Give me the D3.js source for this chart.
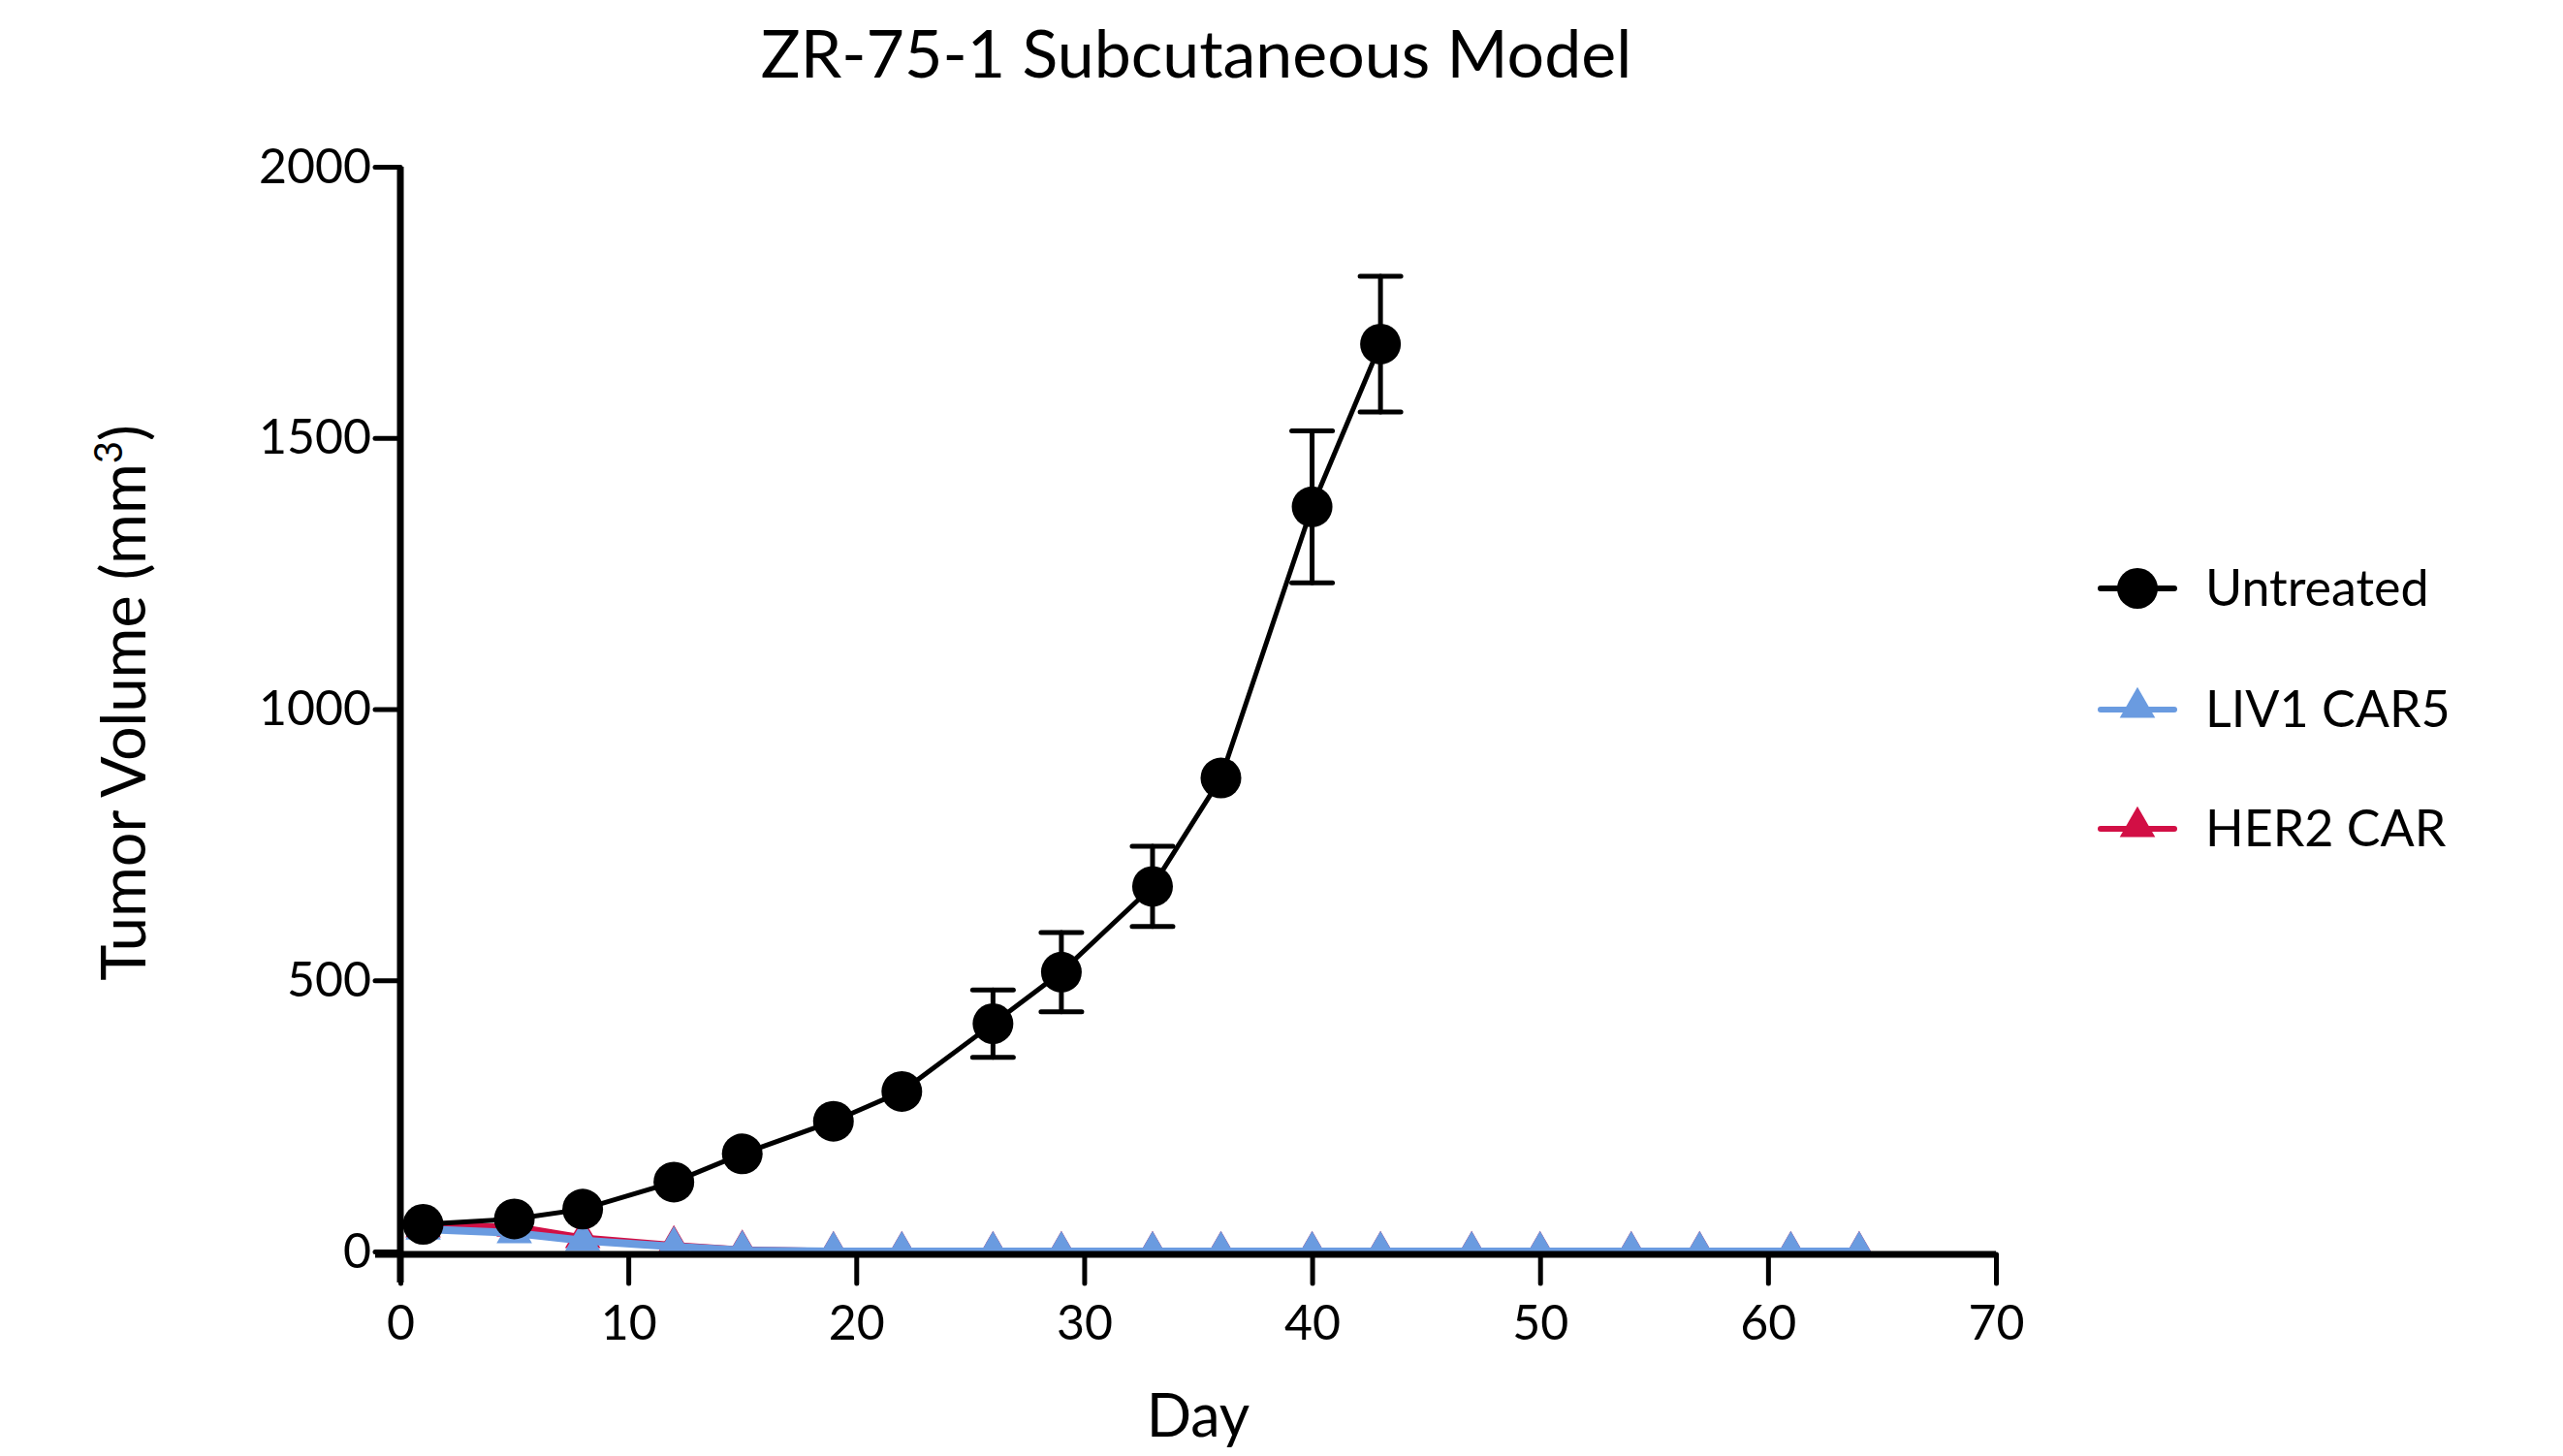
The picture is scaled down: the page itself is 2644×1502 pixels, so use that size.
<!DOCTYPE html>
<html>
<head>
<meta charset="utf-8">
<script src="https://cdn.jsdelivr.net/npm/d3@7"></script>
<style>
  body { margin: 0; background: #fff; }
  text { font-family: Lato, 'Open Sans', sans-serif; fill: #000; }
</style>
</head>
<body>
<div id="chart"></div>
<script>
// data
var days = [1, 5, 8, 12, 15, 19, 22, 26, 29, 33, 36, 40, 43]
var untreated = [50, 60, 78, 128, 180, 240, 295, 420, 515, 673, 873, 1373, 1673]
var untreatedSem = [6, 8, 10, 12, 14, 16, 18, 62, 73, 74, 20, 140, 125]

var carDays = [1, 5, 8, 12, 15, 19, 22, 26, 29, 33, 36, 40, 43, 47, 50, 54, 57, 61, 64]
var liv1 = [41, 34, 20, 9, 2, 0, 0, 0, 0, 0, 0, 0, 0, 0, 0, 0, 0, 0, 0]
var her2 = [45, 46, 25, 11, 3, 0, 0, 0, 0, 0, 0, 0, 0, 0, 0, 0, 0, 0, 0]

var xTicks = [0, 10, 20, 30, 40, 50, 60, 70]
var yTicks = [0, 500, 1000, 1500, 2000]

var seriesNames = ['Untreated', 'LIV1 CAR5', 'HER2 CAR']
var colors = { 'Untreated': '#000000', 'LIV1 CAR5': '#6a9be0', 'HER2 CAR': '#d20f45' }

var W = 2644
var H = 1502
var margin = { top: 172, left: 413 }
var width = 2059 - 413
var height = 1291 - 172
var R = 21

var svg = d3
  .select('#chart')
  .append('svg')
  .attr('width', W)
  .attr('height', H)

var g = svg.append('g')
  .attr('transform', 'translate(' + margin.left + ',' + margin.top + ')')

var x = d3.scaleLinear().domain([0, 70]).range([0, width])
var y = d3.scaleLinear().domain([0, 2000]).range([height, 0])

// marks are clipped at the zero line, like the original
svg.append('defs').append('clipPath')
  .attr('id', 'plot')
  .append('rect')
  .attr('x', -40)
  .attr('y', -100)
  .attr('width', width + 80)
  .attr('height', height + 100)

var plot = g.append('g').attr('clip-path', 'url(#plot)')

var line = d3.line().x(d => x(d[0])).y(d => y(d[1]))
var tri = d3.symbol().type(d3.symbolTriangle).size(580)

// HER2 CAR (drawn first, under the others)
var her2Pts = carDays.map((d, i) => [d, her2[i]])
plot.append('path')
  .datum(her2Pts)
  .attr('d', line)
  .attr('fill', 'none')
  .attr('stroke', colors['HER2 CAR'])
  .attr('stroke-width', 7)
plot.selectAll('.her2')
  .data(her2Pts)
  .enter()
  .append('path')
  .attr('class', 'her2')
  .attr('d', tri)
  .attr('transform', d => 'translate(' + x(d[0]) + ',' + y(d[1]) + ')')
  .attr('fill', colors['HER2 CAR'])

// LIV1 CAR5
var livPts = carDays.map((d, i) => [d, liv1[i]])
plot.append('path')
  .datum(livPts)
  .attr('d', line)
  .attr('fill', 'none')
  .attr('stroke', colors['LIV1 CAR5'])
  .attr('stroke-width', 8)
plot.selectAll('.liv1')
  .data(livPts)
  .enter()
  .append('path')
  .attr('class', 'liv1')
  .attr('d', tri)
  .attr('transform', d => 'translate(' + x(d[0]) + ',' + y(d[1]) + ')')
  .attr('fill', colors['LIV1 CAR5'])

// Untreated with SEM bars (bars shorter than the symbol are hidden)
var untPts = days.map((d, i) => ({ day: d, v: untreated[i], sem: untreatedSem[i] }))
var err = g.selectAll('.err')
  .data(untPts.filter(d => y(0) - y(d.sem) > R + 4))
  .enter()
  .append('g')
  .attr('class', 'err')
  .attr('stroke', '#000')
  .attr('stroke-width', 5)
  .attr('stroke-linecap', 'round')
err.append('line')
  .attr('x1', d => x(d.day)).attr('x2', d => x(d.day))
  .attr('y1', d => y(d.v + d.sem)).attr('y2', d => y(d.v - d.sem))
err.append('line')
  .attr('x1', d => x(d.day) - 21).attr('x2', d => x(d.day) + 21)
  .attr('y1', d => y(d.v + d.sem)).attr('y2', d => y(d.v + d.sem))
err.append('line')
  .attr('x1', d => x(d.day) - 21).attr('x2', d => x(d.day) + 21)
  .attr('y1', d => y(d.v - d.sem)).attr('y2', d => y(d.v - d.sem))

g.append('path')
  .datum(untPts.map(d => [d.day, d.v]))
  .attr('d', line)
  .attr('fill', 'none')
  .attr('stroke', '#000')
  .attr('stroke-width', 5)
g.selectAll('.dot')
  .data(untPts)
  .enter()
  .append('circle')
  .attr('class', 'dot')
  .attr('cx', d => x(d.day))
  .attr('cy', d => y(d.v))
  .attr('r', R)
  .attr('fill', '#000')

// axes
var xAxis = d3.axisBottom(x).tickValues(xTicks).tickSize(30).tickSizeOuter(0).tickPadding(22)
var yAxis = d3.axisLeft(y).tickValues(yTicks).tickFormat(d3.format('d')).tickSize(26).tickSizeOuter(0).tickPadding(4)

var gx = g.append('g')
  .attr('transform', 'translate(0,' + (height + 3) + ')')
  .call(xAxis)
var gy = g.append('g').call(yAxis)

;[gx, gy].forEach(function(a) {
  a.select('.domain').attr('stroke', '#000').attr('stroke-width', 7)
  a.selectAll('.tick line').attr('stroke', '#000').attr('stroke-width', 5).attr('stroke-linecap', 'round')
  a.selectAll('.tick text').attr('font-size', 50).attr('font-family', 'Lato, sans-serif').attr('fill', '#000')
})
gy.select('.domain').attr('d', 'M0,0V' + (height + 32))
gx.select('.domain').attr('d', 'M-26,0H' + width)

// titles
svg.append('text')
  .attr('x', 1234)
  .attr('y', 80)
  .attr('text-anchor', 'middle')
  .attr('font-size', 68)
  .text('ZR-75-1 Subcutaneous Model')

svg.append('text')
  .attr('x', 1236)
  .attr('y', 1482)
  .attr('text-anchor', 'middle')
  .attr('font-size', 61)
  .text('Day')

var yl = svg.append('text')
  .attr('transform', 'translate(150,725) rotate(-90)')
  .attr('text-anchor', 'middle')
  .attr('font-size', 63)
yl.append('tspan').text('Tumor Volume (mm')
yl.append('tspan').attr('baseline-shift', 'super').attr('font-size', 40).text('3')
yl.append('tspan').text(')')

// legend
var legRows = [607, 732, 855]
var leg = svg.selectAll('.leg')
  .data(seriesNames)
  .enter()
  .append('g')
  .attr('class', 'leg')
  .attr('transform', (d, i) => 'translate(2167,' + legRows[i] + ')')
leg.append('line')
  .attr('x1', 0).attr('x2', 76)
  .attr('stroke', d => colors[d])
  .attr('stroke-width', 6)
  .attr('stroke-linecap', 'round')
leg.each(function(d) {
  var s = d3.select(this)
  if (d === 'Untreated') {
    s.append('circle').attr('cx', 38).attr('r', R).attr('fill', '#000')
  } else {
    s.append('path').attr('d', tri).attr('transform', 'translate(38,-2)').attr('fill', colors[d])
  }
})
leg.append('text')
  .attr('x', 108)
  .attr('y', 18)
  .attr('font-size', 52)
  .text(d => d)
</script>
</body>
</html>
